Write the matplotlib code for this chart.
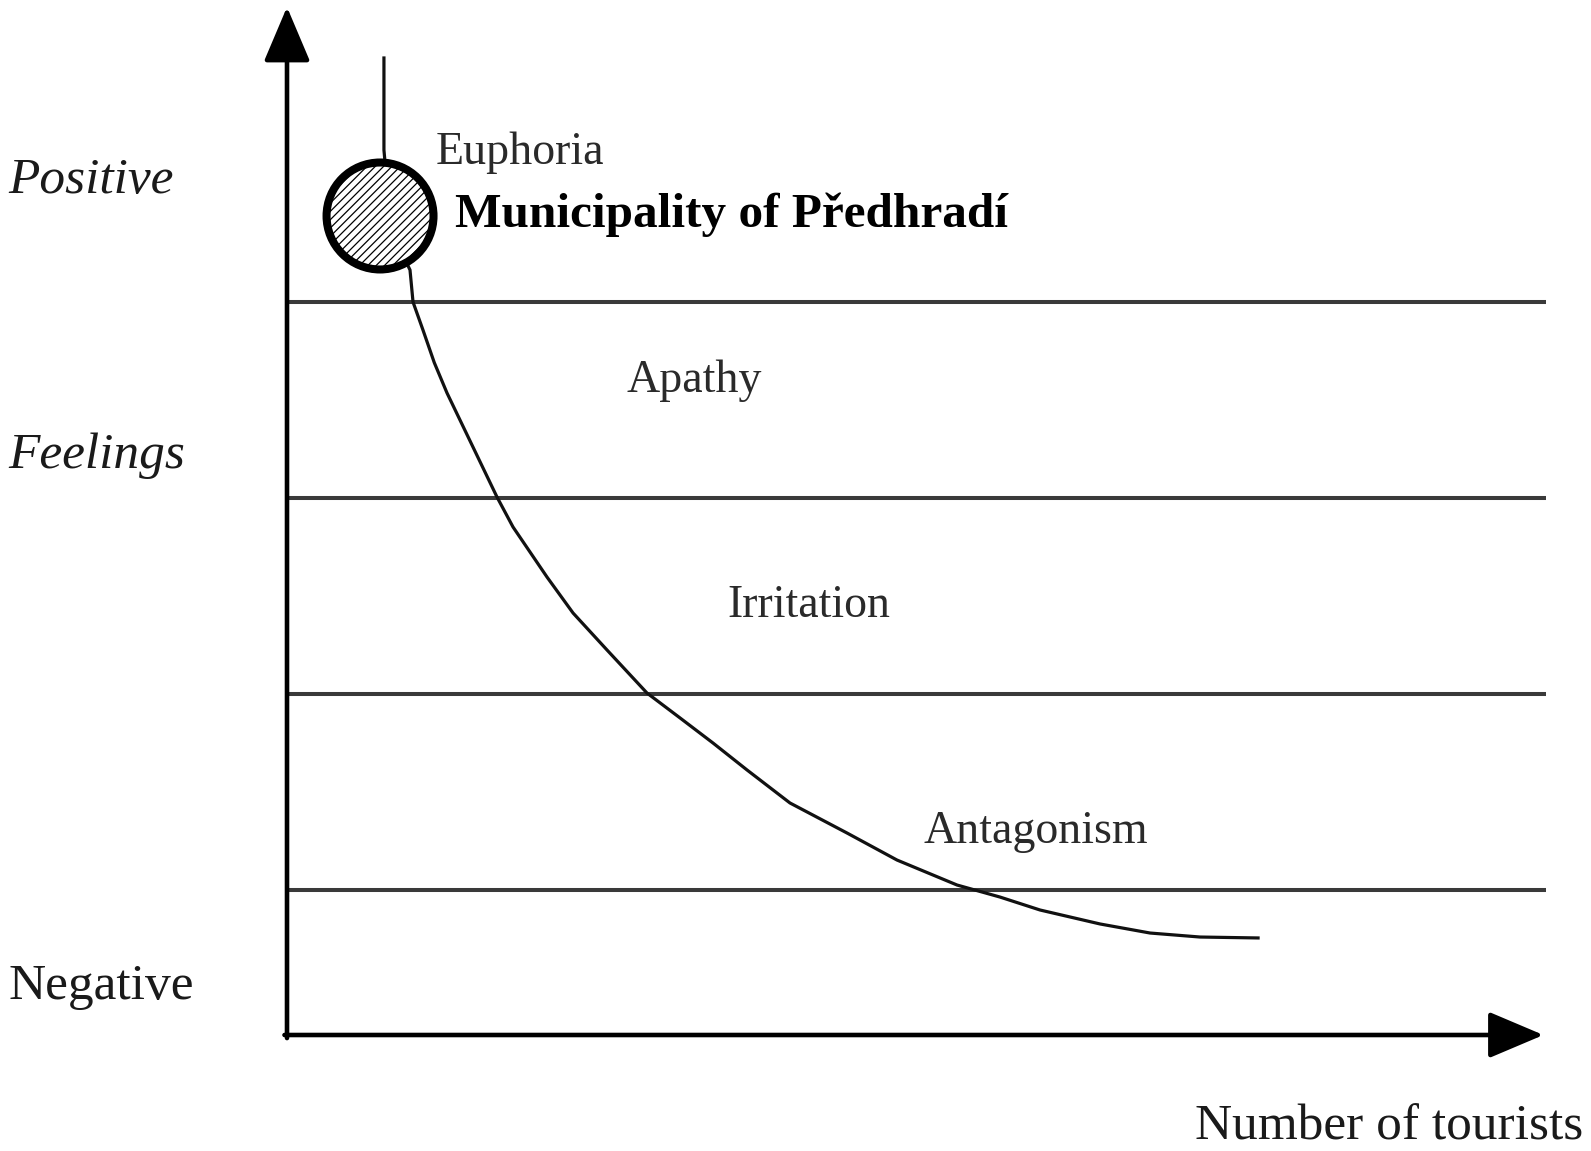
import matplotlib
matplotlib.use("Agg")
import matplotlib.pyplot as plt
from matplotlib.patches import Rectangle

plt.rcParams['font.family'] = ['Liberation Serif', 'DejaVu Serif']
plt.rcParams['hatch.linewidth'] = 0.9

# resident feelings curve (x = number of tourists, y = feelings)
curve_x = [7.70, 7.70, 8.02, 8.82, 9.77, 10.01, 10.80, 11.70, 12.71, 14.77, 16.68, 17.95,
           20.65, 22.72, 25.42, 28.59, 31.22, 33.84, 36.54, 39.95, 44.48, 48.45,
           53.22, 56.63, 59.81, 64.58, 68.55, 72.52, 77.13]
curve_y = [95.04, 86.09, 81.71, 76.85, 74.42, 71.30, 68.58, 65.40, 62.45, 57.20, 52.33, 49.42,
           44.55, 41.05, 37.45, 33.27, 30.84, 28.40, 25.78, 22.57, 19.65, 17.02,
           14.59, 13.42, 12.16, 10.80, 9.92, 9.53, 9.44]

# borders between the stages
level_y = [71.30, 52.24, 33.17, 14.11]

stages = ['Euphoria', 'Apathy', 'Irritation', 'Antagonism']
stage_x = [11.83, 27.0, 34.95, 50.52]
stage_y = [84.73, 62.55, 40.66, 18.68]

# where the municipality sits
place_name = 'Municipality of Předhradí'
place_x = 7.39
place_y = 79.67

fig = plt.figure(figsize=(15.91, 11.51), dpi=100)
ax = fig.add_axes([287 / 1591, (1151 - 1035) / 1151, 1259 / 1591, 1028 / 1151])
ax.set_xlim(0, 100)
ax.set_ylim(0, 100)
ax.set_axis_off()

for ly in level_y:
    ax.plot([0, 100], [ly, ly], color='#3a3a3a', lw=2.9, solid_capstyle='butt', zorder=1)

ax.plot(curve_x, curve_y, color='#111111', lw=2.3, zorder=2)

# axes with arrow heads
arr = dict(arrowstyle='-|>,head_length=0.85,head_width=0.36', color='black',
           lw=3.3, shrinkA=0, shrinkB=0, mutation_scale=40)
ax.annotate('', xy=(0, 100), xytext=(0, -0.3), arrowprops=arr, annotation_clip=False)
ax.annotate('', xy=(99.8, 0), xytext=(-0.2, 0), arrowprops=arr, annotation_clip=False)

ax.scatter([place_x], [place_y], s=5930, facecolor='white', edgecolor='black',
           linewidths=5.8, hatch='////', zorder=5, clip_on=False)

for name, sx, sy in zip(stages, stage_x, stage_y):
    ax.text(sx, sy, name, fontsize=33, color='#2a2a2a', va='baseline', ha='left')

t = ax.text(13.34, 78.6, place_name, fontsize=35.5, fontweight='bold',
            color='black', va='baseline', ha='left')
# the descenders are cut off in the original
t.set_clip_path(Rectangle((0, 78.0), 100, 30, transform=ax.transData))

ax.text(-22.16, 81.91, 'Positive', fontsize=37, style='italic', color='#1a1a1a',
        va='baseline', ha='left', clip_on=False)
ax.text(-22.16, 55.16, 'Feelings', fontsize=37, style='italic', color='#1a1a1a',
        va='baseline', ha='left', clip_on=False)
ax.text(-22.16, 3.50, 'Negative', fontsize=37, color='#1a1a1a',
        va='baseline', ha='left', clip_on=False)
ax.text(102.94, -10.2, 'Number of tourists', fontsize=37, color='#1a1a1a',
        va='baseline', ha='right', clip_on=False)

fig.savefig('out.png', dpi=100)
